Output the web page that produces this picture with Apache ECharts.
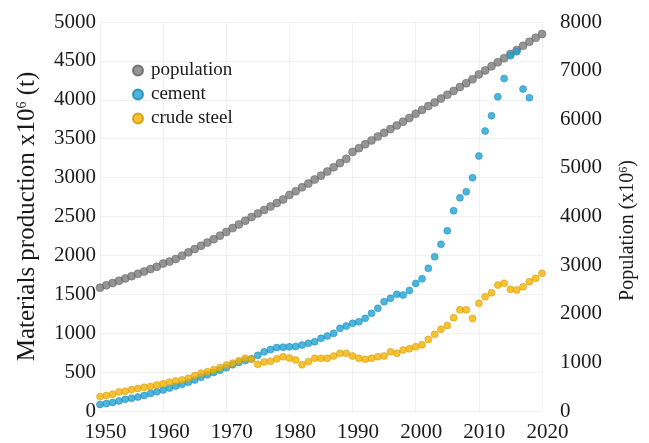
<!DOCTYPE html>
<html>
<head>
<meta charset="utf-8">
<script src="https://cdn.jsdelivr.net/npm/echarts@6/dist/echarts.min.js"></script>
<style>html,body{margin:0;padding:0;background:#fff;}#c{width:649px;height:443px;}</style>
</head>
<body>
<div id="c"></div>
<script>
const years = [];
for (let y = 1950; y <= 2020; y++) years.push(y);

const population = [2536,2584,2631,2678,2727,2773,2821,2869,2919,2965,
  3032,3072,3126,3194,3263,3330,3398,3464,3534,3606,
  3682,3761,3838,3914,3989,4062,4134,4205,4276,4349,
  4444,4520,4600,4680,4760,4840,4925,5011,5098,5186,
  5327,5406,5486,5565,5643,5720,5797,5873,5949,6025,
  6114,6192,6270,6347,6425,6503,6582,6662,6742,6822,
  6922,7004,7088,7172,7256,7340,7425,7509,7592,7674,7753];

const cementYears = years.slice(0, 69); // 1950-2018
const cement = [85,95,110,130,150,165,180,200,225,248,
  270,295,320,345,370,400,435,465,495,525,
  555,595,625,650,670,715,760,790,815,820,
  825,830,848,870,891,934,964,998,1063,1092,
  1127,1148,1191,1255,1320,1405,1448,1500,1491,1550,
  1640,1700,1834,1983,2142,2317,2574,2741,2818,2998,
  3277,3598,3795,4039,4275,4566,4617,4138,4026];

const steel = [185,200,215,245,255,275,290,305,315,334,
  350,370,385,400,420,455,485,505,530,560,
  590,615,645,677,665,600,630,640,670,698,
  680,655,595,634,677,677,677,707,741,741,
  707,677,664,677,698,707,762,741,784,800,
  827,850,920,985,1050,1100,1200,1300,1300,1190,
  1384,1469,1520,1619,1641,1564,1555,1597,1662,1705,1769];

const leftTicks = {min: 0, max: 5000, interval: 500};
const rightTicks = {min: 0, max: 8000, interval: 1000};
const xTicks = {min: 1950, max: 2020, interval: 10};

const pair = (xs, vs) => vs.map((v, i) => [xs[i], v]);
const serif = '"Liberation Serif", "Times New Roman", serif';
const plain = v => String(v);

const chart = echarts.init(document.getElementById('c'), null, {renderer: 'canvas'});
chart.setOption({
  animation: false,
  backgroundColor: '#fff',
  grid: {left: 100, right: 107, top: 22, bottom: 32, containLabel: false},
  legend: {
    orient: 'vertical', left: 127, top: 56, itemGap: 5,
    itemWidth: 10, itemHeight: 10, icon: 'circle',
    textStyle: {fontFamily: serif, fontSize: 19, color: '#1a1a1a', lineHeight: 19, padding: [0,0,0,3]},
    data: ['population', 'cement', 'crude steel']
  },
  xAxis: {
    type: 'value', min: xTicks.min, max: xTicks.max, interval: xTicks.interval,
    axisLine: {show: false}, axisTick: {show: false},
    splitLine: {show: true, lineStyle: {color: '#f1f1f1', width: 1}},
    axisLabel: {fontFamily: serif, fontSize: 21, color: '#1a1a1a', margin: 11, padding: [0,0,0,11], formatter: plain}
  },
  yAxis: [{
    type: 'value', min: leftTicks.min, max: leftTicks.max, interval: leftTicks.interval,
    position: 'left',
    name: 'Materials production x10{sup|6} (t)',
    nameLocation: 'middle', nameGap: 60, nameRotate: 90,
    nameTextStyle: {fontFamily: serif, fontSize: 25, color: '#1a1a1a',
      rich: {sup: {fontFamily: serif, fontSize: 14, verticalAlign: 'top', padding: [0,0,10,0]}}},
    axisLine: {show: false}, axisTick: {show: false},
    splitLine: {show: true, lineStyle: {color: '#f1f1f1', width: 1}},
    axisLabel: {fontFamily: serif, fontSize: 21, color: '#1a1a1a', margin: 4, formatter: plain}
  }, {
    type: 'value', min: rightTicks.min, max: rightTicks.max, interval: rightTicks.interval,
    position: 'right',
    name: 'Population (x10{sup|6})',
    nameLocation: 'middle', nameGap: 76, nameRotate: 90,
    nameTextStyle: {fontFamily: serif, fontSize: 20, color: '#1a1a1a', padding: [0, 28, 0, 0],
      rich: {sup: {fontFamily: serif, fontSize: 12, verticalAlign: 'top', padding: [0,0,8,0]}}},
    axisLine: {show: false}, axisTick: {show: false},
    splitLine: {show: false},
    axisLabel: {fontFamily: serif, fontSize: 21, color: '#1a1a1a', margin: 18, formatter: plain}
  }],
  series: [{
    name: 'population', type: 'scatter', yAxisIndex: 1, symbolSize: 8,
    itemStyle: {color: '#7a7a7a', borderColor: '#5c5c5c', borderWidth: 0.6},
    data: pair(years, population)
  }, {
    name: 'cement', type: 'scatter', yAxisIndex: 0, symbolSize: 7,
    itemStyle: {color: '#1fa2d6', borderColor: '#1584b0', borderWidth: 0.6},
    data: pair(cementYears, cement)
  }, {
    name: 'crude steel', type: 'scatter', yAxisIndex: 0, symbolSize: 7,
    itemStyle: {color: '#f4b200', borderColor: '#cf9500', borderWidth: 0.6},
    data: pair(years, steel)
  }]
});
</script>
</body>
</html>
